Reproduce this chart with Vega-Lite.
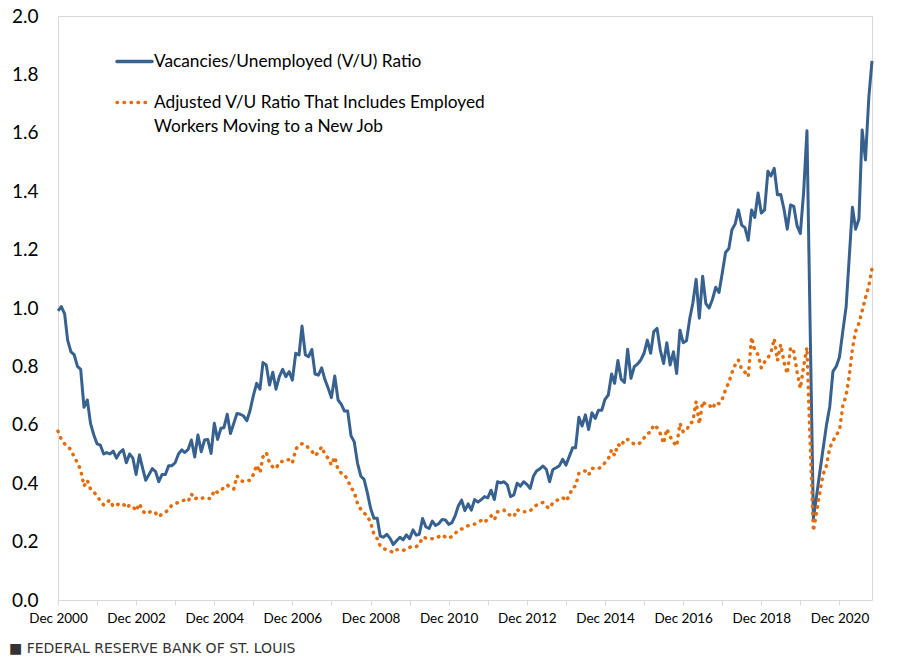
{
"$schema":"https://vega.github.io/schema/vega-lite/v6.json",
"width":814,"height":584,
"autosize":"none",
"padding":{"left":58,"top":16,"right":37,"bottom":60},
"background":"white",
"config":{"font":"Lato","view":{"stroke":"#d9d9d9","strokeWidth":1},"axis":{"grid":false}},
"title":{"text":"■ FEDERAL RESERVE BANK OF ST. LOUIS","orient":"bottom","anchor":"start","frame":"group","dx":-49,"offset":17,"font":"DejaVu Sans","fontSize":14,"fontWeight":"normal","color":"#333333"},
"datasets":{
"vu":[
{"date":"2000-12","value":0.99},
{"date":"2001-01","value":1.005},{"date":"2001-02","value":0.98},{"date":"2001-03","value":0.89},{"date":"2001-04","value":0.85},{"date":"2001-05","value":0.84},{"date":"2001-06","value":0.8},{"date":"2001-07","value":0.79},{"date":"2001-08","value":0.66},{"date":"2001-09","value":0.685},{"date":"2001-10","value":0.605},{"date":"2001-11","value":0.565},{"date":"2001-12","value":0.535},
{"date":"2002-01","value":0.53},{"date":"2002-02","value":0.5},{"date":"2002-03","value":0.505},{"date":"2002-04","value":0.5},{"date":"2002-05","value":0.51},{"date":"2002-06","value":0.486},{"date":"2002-07","value":0.505},{"date":"2002-08","value":0.515},{"date":"2002-09","value":0.47},{"date":"2002-10","value":0.5},{"date":"2002-11","value":0.486},{"date":"2002-12","value":0.43},
{"date":"2003-01","value":0.497},{"date":"2003-02","value":0.45},{"date":"2003-03","value":0.41},{"date":"2003-04","value":0.43},{"date":"2003-05","value":0.45},{"date":"2003-06","value":0.44},{"date":"2003-07","value":0.405},{"date":"2003-08","value":0.43},{"date":"2003-09","value":0.43},{"date":"2003-10","value":0.46},{"date":"2003-11","value":0.46},{"date":"2003-12","value":0.47},
{"date":"2004-01","value":0.5},{"date":"2004-02","value":0.514},{"date":"2004-03","value":0.505},{"date":"2004-04","value":0.516},{"date":"2004-05","value":0.548},{"date":"2004-06","value":0.49},{"date":"2004-07","value":0.565},{"date":"2004-08","value":0.508},{"date":"2004-09","value":0.548},{"date":"2004-10","value":0.55},{"date":"2004-11","value":0.502},{"date":"2004-12","value":0.605},
{"date":"2005-01","value":0.55},{"date":"2005-02","value":0.588},{"date":"2005-03","value":0.59},{"date":"2005-04","value":0.636},{"date":"2005-05","value":0.57},{"date":"2005-06","value":0.605},{"date":"2005-07","value":0.639},{"date":"2005-08","value":0.636},{"date":"2005-09","value":0.63},{"date":"2005-10","value":0.614},{"date":"2005-11","value":0.65},{"date":"2005-12","value":0.7},
{"date":"2006-01","value":0.742},{"date":"2006-02","value":0.722},{"date":"2006-03","value":0.813},{"date":"2006-04","value":0.805},{"date":"2006-05","value":0.736},{"date":"2006-06","value":0.78},{"date":"2006-07","value":0.722},{"date":"2006-08","value":0.765},{"date":"2006-09","value":0.79},{"date":"2006-10","value":0.765},{"date":"2006-11","value":0.782},{"date":"2006-12","value":0.753},
{"date":"2007-01","value":0.845},{"date":"2007-02","value":0.839},{"date":"2007-03","value":0.938},{"date":"2007-04","value":0.84},{"date":"2007-05","value":0.833},{"date":"2007-06","value":0.858},{"date":"2007-07","value":0.774},{"date":"2007-08","value":0.77},{"date":"2007-09","value":0.795},{"date":"2007-10","value":0.755},{"date":"2007-11","value":0.725},{"date":"2007-12","value":0.693},
{"date":"2008-01","value":0.767},{"date":"2008-02","value":0.685},{"date":"2008-03","value":0.671},{"date":"2008-04","value":0.647},{"date":"2008-05","value":0.647},{"date":"2008-06","value":0.562},{"date":"2008-07","value":0.542},{"date":"2008-08","value":0.468},{"date":"2008-09","value":0.424},{"date":"2008-10","value":0.413},{"date":"2008-11","value":0.367},{"date":"2008-12","value":0.314},
{"date":"2009-01","value":0.28},{"date":"2009-02","value":0.28},{"date":"2009-03","value":0.219},{"date":"2009-04","value":0.215},{"date":"2009-05","value":0.225},{"date":"2009-06","value":0.211},{"date":"2009-07","value":0.19},{"date":"2009-08","value":0.203},{"date":"2009-09","value":0.215},{"date":"2009-10","value":0.206},{"date":"2009-11","value":0.223},{"date":"2009-12","value":0.21},
{"date":"2010-01","value":0.24},{"date":"2010-02","value":0.222},{"date":"2010-03","value":0.225},{"date":"2010-04","value":0.279},{"date":"2010-05","value":0.251},{"date":"2010-06","value":0.245},{"date":"2010-07","value":0.27},{"date":"2010-08","value":0.255},{"date":"2010-09","value":0.262},{"date":"2010-10","value":0.276},{"date":"2010-11","value":0.274},{"date":"2010-12","value":0.259},
{"date":"2011-01","value":0.265},{"date":"2011-02","value":0.29},{"date":"2011-03","value":0.322},{"date":"2011-04","value":0.342},{"date":"2011-05","value":0.306},{"date":"2011-06","value":0.329},{"date":"2011-07","value":0.308},{"date":"2011-08","value":0.344},{"date":"2011-09","value":0.335},{"date":"2011-10","value":0.344},{"date":"2011-11","value":0.354},{"date":"2011-12","value":0.35},
{"date":"2012-01","value":0.376},{"date":"2012-02","value":0.344},{"date":"2012-03","value":0.405},{"date":"2012-04","value":0.401},{"date":"2012-05","value":0.405},{"date":"2012-06","value":0.394},{"date":"2012-07","value":0.354},{"date":"2012-08","value":0.36},{"date":"2012-09","value":0.4},{"date":"2012-10","value":0.39},{"date":"2012-11","value":0.405},{"date":"2012-12","value":0.396},
{"date":"2013-01","value":0.382},{"date":"2013-02","value":0.425},{"date":"2013-03","value":0.442},{"date":"2013-04","value":0.449},{"date":"2013-05","value":0.459},{"date":"2013-06","value":0.447},{"date":"2013-07","value":0.405},{"date":"2013-08","value":0.447},{"date":"2013-09","value":0.453},{"date":"2013-10","value":0.46},{"date":"2013-11","value":0.482},{"date":"2013-12","value":0.462},
{"date":"2014-01","value":0.491},{"date":"2014-02","value":0.521},{"date":"2014-03","value":0.521},{"date":"2014-04","value":0.626},{"date":"2014-05","value":0.596},{"date":"2014-06","value":0.634},{"date":"2014-07","value":0.584},{"date":"2014-08","value":0.641},{"date":"2014-09","value":0.622},{"date":"2014-10","value":0.65},{"date":"2014-11","value":0.65},{"date":"2014-12","value":0.687},
{"date":"2015-01","value":0.702},{"date":"2015-02","value":0.774},{"date":"2015-03","value":0.742},{"date":"2015-04","value":0.82},{"date":"2015-05","value":0.756},{"date":"2015-06","value":0.745},{"date":"2015-07","value":0.859},{"date":"2015-08","value":0.759},{"date":"2015-09","value":0.799},{"date":"2015-10","value":0.808},{"date":"2015-11","value":0.822},{"date":"2015-12","value":0.845},
{"date":"2016-01","value":0.89},{"date":"2016-02","value":0.845},{"date":"2016-03","value":0.919},{"date":"2016-04","value":0.93},{"date":"2016-05","value":0.856},{"date":"2016-06","value":0.81},{"date":"2016-07","value":0.881},{"date":"2016-08","value":0.805},{"date":"2016-09","value":0.85},{"date":"2016-10","value":0.776},{"date":"2016-11","value":0.924},{"date":"2016-12","value":0.881},
{"date":"2017-01","value":0.888},{"date":"2017-02","value":0.965},{"date":"2017-03","value":1.016},{"date":"2017-04","value":1.098},{"date":"2017-05","value":0.965},{"date":"2017-06","value":1.109},{"date":"2017-07","value":1.015},{"date":"2017-08","value":1.0},{"date":"2017-09","value":1.03},{"date":"2017-10","value":1.071},{"date":"2017-11","value":1.053},{"date":"2017-12","value":1.119},
{"date":"2018-01","value":1.19},{"date":"2018-02","value":1.204},{"date":"2018-03","value":1.267},{"date":"2018-04","value":1.288},{"date":"2018-05","value":1.336},{"date":"2018-06","value":1.284},{"date":"2018-07","value":1.275},{"date":"2018-08","value":1.232},{"date":"2018-09","value":1.336},{"date":"2018-10","value":1.31},{"date":"2018-11","value":1.394},{"date":"2018-12","value":1.325},
{"date":"2019-01","value":1.336},{"date":"2019-02","value":1.468},{"date":"2019-03","value":1.452},{"date":"2019-04","value":1.478},{"date":"2019-05","value":1.388},{"date":"2019-06","value":1.389},{"date":"2019-07","value":1.339},{"date":"2019-08","value":1.27},{"date":"2019-09","value":1.353},{"date":"2019-10","value":1.348},{"date":"2019-11","value":1.281},{"date":"2019-12","value":1.255},
{"date":"2020-01","value":1.397},{"date":"2020-02","value":1.607},{"date":"2020-03","value":0.95},{"date":"2020-04","value":0.28},{"date":"2020-05","value":0.356},{"date":"2020-06","value":0.44},{"date":"2020-07","value":0.518},{"date":"2020-08","value":0.598},{"date":"2020-09","value":0.662},{"date":"2020-10","value":0.783},{"date":"2020-11","value":0.8},{"date":"2020-12","value":0.832},
{"date":"2021-01","value":0.92},{"date":"2021-02","value":1.004},{"date":"2021-03","value":1.166},{"date":"2021-04","value":1.345},{"date":"2021-05","value":1.27},{"date":"2021-06","value":1.305},{"date":"2021-07","value":1.61},{"date":"2021-08","value":1.507},{"date":"2021-09","value":1.72},{"date":"2021-10","value":1.846}
],
"adj":[
{"date":"2000-12","value":0.578},
{"date":"2001-01","value":0.55},{"date":"2001-02","value":0.535},{"date":"2001-03","value":0.525},{"date":"2001-04","value":0.515},{"date":"2001-05","value":0.49},{"date":"2001-06","value":0.47},{"date":"2001-07","value":0.445},{"date":"2001-08","value":0.39},{"date":"2001-09","value":0.41},{"date":"2001-10","value":0.38},{"date":"2001-11","value":0.37},{"date":"2001-12","value":0.355},
{"date":"2002-01","value":0.34},{"date":"2002-02","value":0.325},{"date":"2002-03","value":0.335},{"date":"2002-04","value":0.342},{"date":"2002-05","value":0.32},{"date":"2002-06","value":0.325},{"date":"2002-07","value":0.33},{"date":"2002-08","value":0.33},{"date":"2002-09","value":0.315},{"date":"2002-10","value":0.325},{"date":"2002-11","value":0.32},{"date":"2002-12","value":0.305},
{"date":"2003-01","value":0.33},{"date":"2003-02","value":0.305},{"date":"2003-03","value":0.295},{"date":"2003-04","value":0.3},{"date":"2003-05","value":0.305},{"date":"2003-06","value":0.298},{"date":"2003-07","value":0.285},{"date":"2003-08","value":0.295},{"date":"2003-09","value":0.3},{"date":"2003-10","value":0.31},{"date":"2003-11","value":0.325},{"date":"2003-12","value":0.33},
{"date":"2004-01","value":0.334},{"date":"2004-02","value":0.34},{"date":"2004-03","value":0.342},{"date":"2004-04","value":0.337},{"date":"2004-05","value":0.363},{"date":"2004-06","value":0.345},{"date":"2004-07","value":0.352},{"date":"2004-08","value":0.348},{"date":"2004-09","value":0.351},{"date":"2004-10","value":0.348},{"date":"2004-11","value":0.348},{"date":"2004-12","value":0.376},
{"date":"2005-01","value":0.368},{"date":"2005-02","value":0.375},{"date":"2005-03","value":0.386},{"date":"2005-04","value":0.394},{"date":"2005-05","value":0.385},{"date":"2005-06","value":0.38},{"date":"2005-07","value":0.425},{"date":"2005-08","value":0.41},{"date":"2005-09","value":0.405},{"date":"2005-10","value":0.408},{"date":"2005-11","value":0.41},{"date":"2005-12","value":0.43},
{"date":"2006-01","value":0.462},{"date":"2006-02","value":0.436},{"date":"2006-03","value":0.49},{"date":"2006-04","value":0.505},{"date":"2006-05","value":0.47},{"date":"2006-06","value":0.455},{"date":"2006-07","value":0.45},{"date":"2006-08","value":0.472},{"date":"2006-09","value":0.475},{"date":"2006-10","value":0.481},{"date":"2006-11","value":0.48},{"date":"2006-12","value":0.469},
{"date":"2007-01","value":0.516},{"date":"2007-02","value":0.53},{"date":"2007-03","value":0.535},{"date":"2007-04","value":0.533},{"date":"2007-05","value":0.52},{"date":"2007-06","value":0.51},{"date":"2007-07","value":0.494},{"date":"2007-08","value":0.506},{"date":"2007-09","value":0.525},{"date":"2007-10","value":0.499},{"date":"2007-11","value":0.485},{"date":"2007-12","value":0.462},
{"date":"2008-01","value":0.49},{"date":"2008-02","value":0.445},{"date":"2008-03","value":0.435},{"date":"2008-04","value":0.43},{"date":"2008-05","value":0.41},{"date":"2008-06","value":0.385},{"date":"2008-07","value":0.37},{"date":"2008-08","value":0.33},{"date":"2008-09","value":0.31},{"date":"2008-10","value":0.298},{"date":"2008-11","value":0.288},{"date":"2008-12","value":0.265},
{"date":"2009-01","value":0.225},{"date":"2009-02","value":0.21},{"date":"2009-03","value":0.185},{"date":"2009-04","value":0.175},{"date":"2009-05","value":0.173},{"date":"2009-06","value":0.168},{"date":"2009-07","value":0.162},{"date":"2009-08","value":0.172},{"date":"2009-09","value":0.172},{"date":"2009-10","value":0.169},{"date":"2009-11","value":0.177},{"date":"2009-12","value":0.18},
{"date":"2010-01","value":0.185},{"date":"2010-02","value":0.183},{"date":"2010-03","value":0.19},{"date":"2010-04","value":0.215},{"date":"2010-05","value":0.212},{"date":"2010-06","value":0.208},{"date":"2010-07","value":0.21},{"date":"2010-08","value":0.211},{"date":"2010-09","value":0.217},{"date":"2010-10","value":0.223},{"date":"2010-11","value":0.215},{"date":"2010-12","value":0.211},
{"date":"2011-01","value":0.218},{"date":"2011-02","value":0.228},{"date":"2011-03","value":0.24},{"date":"2011-04","value":0.243},{"date":"2011-05","value":0.246},{"date":"2011-06","value":0.255},{"date":"2011-07","value":0.258},{"date":"2011-08","value":0.26},{"date":"2011-09","value":0.268},{"date":"2011-10","value":0.272},{"date":"2011-11","value":0.265},{"date":"2011-12","value":0.278},
{"date":"2012-01","value":0.288},{"date":"2012-02","value":0.274},{"date":"2012-03","value":0.302},{"date":"2012-04","value":0.305},{"date":"2012-05","value":0.308},{"date":"2012-06","value":0.295},{"date":"2012-07","value":0.29},{"date":"2012-08","value":0.285},{"date":"2012-09","value":0.31},{"date":"2012-10","value":0.302},{"date":"2012-11","value":0.302},{"date":"2012-12","value":0.302},
{"date":"2013-01","value":0.305},{"date":"2013-02","value":0.318},{"date":"2013-03","value":0.325},{"date":"2013-04","value":0.33},{"date":"2013-05","value":0.334},{"date":"2013-06","value":0.32},{"date":"2013-07","value":0.314},{"date":"2013-08","value":0.333},{"date":"2013-09","value":0.34},{"date":"2013-10","value":0.346},{"date":"2013-11","value":0.351},{"date":"2013-12","value":0.339},
{"date":"2014-01","value":0.357},{"date":"2014-02","value":0.385},{"date":"2014-03","value":0.39},{"date":"2014-04","value":0.434},{"date":"2014-05","value":0.44},{"date":"2014-06","value":0.442},{"date":"2014-07","value":0.428},{"date":"2014-08","value":0.451},{"date":"2014-09","value":0.45},{"date":"2014-10","value":0.449},{"date":"2014-11","value":0.458},{"date":"2014-12","value":0.47},
{"date":"2015-01","value":0.483},{"date":"2015-02","value":0.515},{"date":"2015-03","value":0.495},{"date":"2015-04","value":0.533},{"date":"2015-05","value":0.525},{"date":"2015-06","value":0.55},{"date":"2015-07","value":0.55},{"date":"2015-08","value":0.54},{"date":"2015-09","value":0.534},{"date":"2015-10","value":0.532},{"date":"2015-11","value":0.54},{"date":"2015-12","value":0.555},
{"date":"2016-01","value":0.57},{"date":"2016-02","value":0.575},{"date":"2016-03","value":0.6},{"date":"2016-04","value":0.59},{"date":"2016-05","value":0.57},{"date":"2016-06","value":0.536},{"date":"2016-07","value":0.586},{"date":"2016-08","value":0.56},{"date":"2016-09","value":0.54},{"date":"2016-10","value":0.527},{"date":"2016-11","value":0.605},{"date":"2016-12","value":0.576},
{"date":"2017-01","value":0.58},{"date":"2017-02","value":0.605},{"date":"2017-03","value":0.61},{"date":"2017-04","value":0.68},{"date":"2017-05","value":0.603},{"date":"2017-06","value":0.68},{"date":"2017-07","value":0.668},{"date":"2017-08","value":0.668},{"date":"2017-09","value":0.655},{"date":"2017-10","value":0.677},{"date":"2017-11","value":0.672},{"date":"2017-12","value":0.688},
{"date":"2018-01","value":0.72},{"date":"2018-02","value":0.745},{"date":"2018-03","value":0.778},{"date":"2018-04","value":0.805},{"date":"2018-05","value":0.822},{"date":"2018-06","value":0.79},{"date":"2018-07","value":0.78},{"date":"2018-08","value":0.765},{"date":"2018-09","value":0.9},{"date":"2018-10","value":0.855},{"date":"2018-11","value":0.84},{"date":"2018-12","value":0.795},
{"date":"2019-01","value":0.815},{"date":"2019-02","value":0.83},{"date":"2019-03","value":0.845},{"date":"2019-04","value":0.895},{"date":"2019-05","value":0.82},{"date":"2019-06","value":0.875},{"date":"2019-07","value":0.815},{"date":"2019-08","value":0.775},{"date":"2019-09","value":0.865},{"date":"2019-10","value":0.85},{"date":"2019-11","value":0.78},{"date":"2019-12","value":0.725},
{"date":"2020-01","value":0.8},{"date":"2020-02","value":0.865},{"date":"2020-03","value":0.55},{"date":"2020-04","value":0.236},{"date":"2020-05","value":0.3},{"date":"2020-06","value":0.37},{"date":"2020-07","value":0.43},{"date":"2020-08","value":0.46},{"date":"2020-09","value":0.52},{"date":"2020-10","value":0.545},{"date":"2020-11","value":0.565},{"date":"2020-12","value":0.58},
{"date":"2021-01","value":0.665},{"date":"2021-02","value":0.7},{"date":"2021-03","value":0.765},{"date":"2021-04","value":0.86},{"date":"2021-05","value":0.92},{"date":"2021-06","value":0.948},{"date":"2021-07","value":0.99},{"date":"2021-08","value":1.035},{"date":"2021-09","value":1.075},{"date":"2021-10","value":1.135}
]
},
"encoding":{
"x":{"field":"date","type":"temporal",
"scale":{"type":"utc","domain":[{"year":2000,"month":12,"date":1,"utc":true},{"year":2021,"month":10,"date":1,"utc":true}]},
"axis":{"title":null,"domain":false,"grid":false,
"values":[{"year":2000,"month":12,"date":1,"utc":true},{"year":2001,"month":12,"date":1,"utc":true},{"year":2002,"month":12,"date":1,"utc":true},{"year":2003,"month":12,"date":1,"utc":true},{"year":2004,"month":12,"date":1,"utc":true},{"year":2005,"month":12,"date":1,"utc":true},{"year":2006,"month":12,"date":1,"utc":true},{"year":2007,"month":12,"date":1,"utc":true},{"year":2008,"month":12,"date":1,"utc":true},{"year":2009,"month":12,"date":1,"utc":true},{"year":2010,"month":12,"date":1,"utc":true},{"year":2011,"month":12,"date":1,"utc":true},{"year":2012,"month":12,"date":1,"utc":true},{"year":2013,"month":12,"date":1,"utc":true},{"year":2014,"month":12,"date":1,"utc":true},{"year":2015,"month":12,"date":1,"utc":true},{"year":2016,"month":12,"date":1,"utc":true},{"year":2017,"month":12,"date":1,"utc":true},{"year":2018,"month":12,"date":1,"utc":true},{"year":2019,"month":12,"date":1,"utc":true},{"year":2020,"month":12,"date":1,"utc":true}],
"labelExpr":"utcyear(datum.value) % 2 == 0 ? utcFormat(datum.value, '%b %Y') : ''",
"tickSize":5,"tickColor":"#d9d9d9","tickWidth":1,
"labelFont":"Lato","labelFontSize":13.5,"labelColor":"#000000","labelPadding":6,"labelFlush":false,"labelOverlap":false}},
"y":{"field":"value","type":"quantitative","scale":{"domain":[0,2],"nice":false,"zero":true},
"axis":{"title":null,"domain":false,"ticks":false,"grid":false,"values":[0,0.2,0.4,0.6,0.8,1,1.2,1.4,1.6,1.8,2],"format":".1f",
"labelFont":"Lato","labelFontSize":19,"labelColor":"#000000","labelPadding":20,"labelFlush":false,"labelOverlap":false}}
},
"layer":[
{"data":{"name":"vu"},
"mark":{"type":"line","strokeWidth":3,"strokeJoin":"round","clip":false},
"encoding":{"color":{"datum":"VU","type":"nominal",
"scale":{"domain":["VU","Adj"],"range":["#37618F","#E46C0A"]},
"legend":{"orient":"none","legendX":57,"legendY":26,"title":null,"padding":0,
"symbolType":"stroke","symbolSize":1225,"symbolStrokeWidth":3.5,
"labelFont":"Lato","labelFontSize":17.3,"labelColor":"#000000","labelOffset":0,"labelLimit":600,"rowPadding":13,
"labelExpr":"datum.value == 'VU' ? 'Vacancies/Unemployed (V/U) Ratio' : ['Adjusted V/U Ratio That Includes Employed', 'Workers Moving to a New Job']",
"encode":{"symbols":{"update":{"strokeCap":{"value":"round"},"strokeDash":{"signal":"datum.value == 'Adj' ? [0.5, 6.5] : [1, 0]"}}},"labels":{"update":{"lineHeight":{"value":24}}}}}}}},
{"data":{"name":"adj"},
"mark":{"type":"line","strokeWidth":3.5,"strokeCap":"round","strokeDash":[0.5,6.5],"clip":false},
"encoding":{"color":{"datum":"Adj","type":"nominal"}}}
]
}
